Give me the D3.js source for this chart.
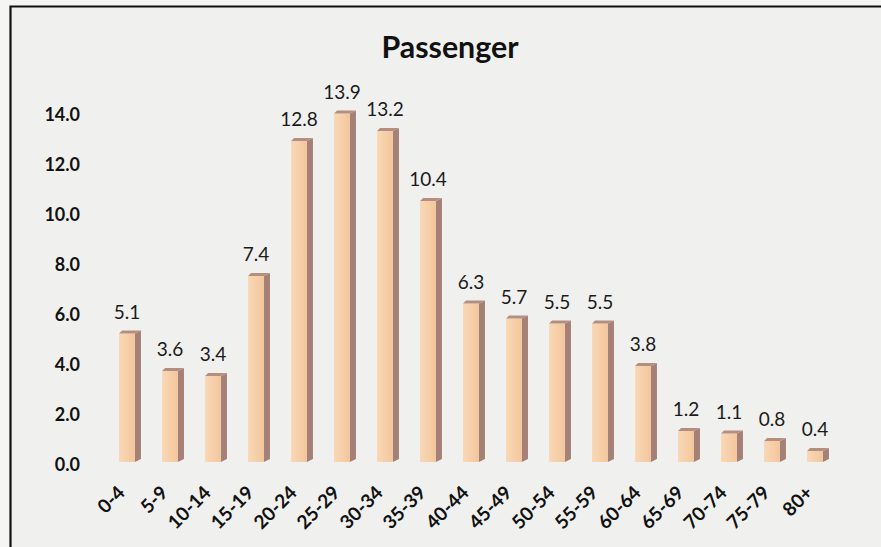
<!DOCTYPE html>
<html>
<head>
<meta charset="utf-8">
<script src="https://cdn.jsdelivr.net/npm/d3@7"></script>
<style>
  html, body { margin: 0; padding: 0; background: #f4f4f3; }
  svg { display: block; }
</style>
</head>
<body>
<svg id="chart" width="881" height="547"></svg>
<script>
const categories = ["0-4","5-9","10-14","15-19","20-24","25-29","30-34","35-39","40-44","45-49","50-54","55-59","60-64","65-69","70-74","75-79","80+"];
const values = [5.1, 3.6, 3.4, 7.4, 12.8, 13.9, 13.2, 10.4, 6.3, 5.7, 5.5, 5.5, 3.8, 1.2, 1.1, 0.8, 0.4];
const yTicks = [0, 2, 4, 6, 8, 10, 12, 14];
const title = "Passenger";

const svg = d3.select("#chart");
const W = 881, H = 547;

// background
svg.append("rect").attr("x", 0).attr("y", 0).attr("width", W).attr("height", H).attr("fill", "#f5f5f4");
svg.append("rect").attr("x", 10).attr("y", 6).attr("width", W - 10).attr("height", H - 6).attr("fill", "#f0f0ee");

// gradient for bar fronts
const defs = svg.append("defs");
const grad = defs.append("linearGradient").attr("id", "front").attr("x1", "0").attr("x2", "1").attr("y1", "0").attr("y2", "0");
grad.append("stop").attr("offset", "0%").attr("stop-color", "#f9d8b6");
grad.append("stop").attr("offset", "100%").attr("stop-color", "#f3c69c");

// border (left + top)
svg.append("path")
  .attr("d", `M10.5,${H} L10.5,6.5 L${W},6.5`)
  .attr("fill", "none").attr("stroke", "#111").attr("stroke-width", 2.2);

// scales
const x = d3.scaleBand().domain(categories).range([108.5, 839.5]).paddingInner(0.49).paddingOuter(0.245);
const y = d3.scaleLinear().domain([0, 14]).range([461, 111]);

// title
svg.append("text")
  .attr("x", 450).attr("y", 58)
  .attr("text-anchor", "middle")
  .attr("font-family", "Lato, 'Open Sans', sans-serif")
  .attr("font-weight", "bold").attr("font-size", 31)
  .attr("fill", "#111")
  .attr("textLength", 137).attr("lengthAdjust", "spacingAndGlyphs")
  .text(title);

// y axis labels (no line)
const yAxis = d3.axisLeft(y).tickValues(yTicks).tickFormat(d3.format(".1f")).tickSize(0).tickPadding(0);
const yg = svg.append("g").attr("transform", "translate(80,4)").call(yAxis);
yg.select(".domain").remove();
yg.selectAll("text")
  .attr("font-family", "Lato, sans-serif").attr("font-weight", "bold").attr("font-size", 18)
  .attr("fill", "#111");

// bars
const side = 6, depth = 3;
const bars = svg.append("g");
categories.forEach((c, i) => {
  const v = values[i];
  const bx = x(c);
  const fw = x.bandwidth() - side;
  const top = y(v), bot = y(0);
  bars.append("path")
    .attr("d", `M${bx + fw},${top} L${bx + fw + side},${top - depth} L${bx + fw + side},${bot - 2} L${bx + fw},${bot + 1} Z`)
    .attr("fill", "#a58076");
  bars.append("rect")
    .attr("x", bx).attr("y", top).attr("width", fw).attr("height", bot - top + 1)
    .attr("fill", "url(#front)");
  bars.append("path")
    .attr("d", `M${bx},${top} L${bx + 3},${top - depth} L${bx + fw + side},${top - depth} L${bx + fw},${top} Z`)
    .attr("fill", "#b48e80");
  svg.append("text")
    .attr("x", bx + fw / 2).attr("y", top - 15)
    .attr("text-anchor", "middle")
    .attr("font-family", "Lato, sans-serif").attr("font-size", 19)
    .attr("fill", "#1a1a1a")
    .text(v.toFixed(1));
});

// x axis labels
const xAxis = d3.axisBottom(x).tickSize(0).tickPadding(0);
const xg = svg.append("g").call(xAxis);
xg.select(".domain").remove();
xg.selectAll(".tick text")
  .attr("font-family", "Lato, sans-serif").attr("font-weight", "bold").attr("font-size", 19)
  .attr("fill", "#111")
  .attr("text-anchor", "end")
  .attr("dy", null)
  .attr("transform", `translate(-4,494) rotate(-45)`)
  .attr("x", 0).attr("y", 0);
</script>
</body>
</html>
